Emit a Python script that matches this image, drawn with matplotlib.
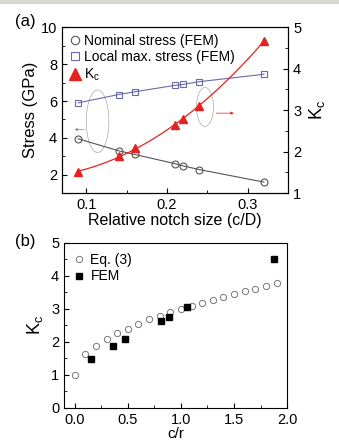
import numpy as np
import matplotlib
matplotlib.use("Agg")
import matplotlib.pyplot as plt
from matplotlib.patches import Ellipse
from matplotlib.lines import Line2D

plt.rcParams['font.family'] = ['Liberation Sans', 'DejaVu Sans']

# (a) stress and Kc vs relative notch size
cd = [0.09, 0.14, 0.16, 0.21, 0.22, 0.24, 0.32]
nominal = [3.95, 3.3, 3.1, 2.6, 2.48, 2.28, 1.6]
local_max = [5.9, 6.35, 6.5, 6.85, 6.9, 7.05, 7.45]
kc_a = [1.5, 1.9, 2.1, 2.65, 2.78, 3.09, 4.68]

# (b) Kc vs c/r
cr_eq = [0.0, 0.1, 0.2, 0.3, 0.4, 0.5, 0.6, 0.7, 0.8, 0.9,
         1.0, 1.1, 1.2, 1.3, 1.4, 1.5, 1.6, 1.7, 1.8, 1.9]
kc_eq = [1.0, 1.63, 1.88, 2.09, 2.26, 2.40, 2.55, 2.68, 2.79, 2.90,
         3.0, 3.1, 3.19, 3.28, 3.36, 3.44, 3.53, 3.61, 3.69, 3.77]
cr_fem = [0.15, 0.36, 0.47, 0.81, 0.89, 1.06, 1.88]
kc_fem = [1.48, 1.89, 2.09, 2.63, 2.76, 3.05, 4.52]

KC = r'$\mathregular{K_c}$'

fig = plt.figure(figsize=(3.39, 4.40), dpi=100)
fig.add_artist(Line2D([0, 1], [0.995, 0.995], color='#d8d8d0', lw=3))

gray = '#555555'
blue = '#6a6aa8'
red = '#e52222'

ax = fig.add_axes([0.183, 0.561, 0.667, 0.377])
ax2 = ax.twinx()
ax.plot(cd, nominal, color=gray, lw=0.8, marker='o', mfc='none', mec=gray, ms=5, mew=0.8)
ax.plot(cd, local_max, color=blue, lw=0.8, marker='s', mfc='none', mec=blue, ms=5, mew=0.8)
# smooth trend through Kc points
coef = np.polyfit(cd, kc_a, 2)
xs = np.linspace(min(cd), max(cd), 100)
ax2.plot(xs, np.polyval(coef, xs), color=red, lw=0.9)
ax2.plot(cd, kc_a, ls='none', marker='^', color=red, ms=5.5)

handles = [
    Line2D([], [], ls='none', marker='o', mfc='none', mec=gray, ms=6, mew=0.8),
    Line2D([], [], ls='none', marker='s', mfc='none', mec=blue, ms=6, mew=0.8),
    Line2D([], [], ls='none', marker='^', color=red, ms=8),
]
ax.legend(handles, ['Nominal stress (FEM)', 'Local max. stress (FEM)', KC],
          loc='upper left', fontsize=10, frameon=False, handlelength=0.8,
          handletextpad=0.3, borderaxespad=0.1, labelspacing=0.15)

ax.set_xlim(0.07, 0.35)
ax.set_ylim(1, 10)
ax2.set_ylim(1, 5)
ax.set_xticks([0.1, 0.2, 0.3])
ax.set_xticks([0.15, 0.25], minor=True)
ax.set_yticks([2, 4, 6, 8, 10])
ax.set_yticks([1, 3, 5, 7, 9], minor=True)
ax2.set_yticks([1, 2, 3, 4, 5])
ax2.set_yticks([1.5, 2.5, 3.5, 4.5], minor=True)
ax.tick_params(direction='in', labelsize=10.5)
ax.tick_params(which='minor', direction='in', length=2)
ax2.tick_params(direction='in', labelsize=10.5)
ax2.tick_params(which='minor', direction='in', length=2)
ax.set_ylabel('Stress (GPa)', fontsize=12, labelpad=2)
ax2.set_ylabel(KC, fontsize=13, labelpad=4)
ax.set_xlabel('Relative notch size (c/D)', fontsize=11.5, labelpad=1)

ax.add_patch(Ellipse((0.114, 4.9), 0.028, 3.4, fill=False, ec='#aaaaaa', lw=0.5))
ax.annotate('', xy=(0.082, 4.45), xytext=(0.101, 4.45),
            arrowprops=dict(arrowstyle='-|>', color='#888888', lw=0.5, mutation_scale=4))
ax2.add_patch(Ellipse((0.247, 3.08), 0.021, 0.94, fill=False, ec='#aaaaaa', lw=0.5))
ax2.annotate('', xy=(0.286, 2.93), xytext=(0.2575, 2.93),
             arrowprops=dict(arrowstyle='-|>', color=red, lw=0.5, mutation_scale=4))
fig.text(0.045, 0.94, '(a)', fontsize=12)

# (b)
bx = fig.add_axes([0.189, 0.073, 0.658, 0.375])
bx.plot(cr_eq, kc_eq, ls='none', marker='o', mfc='none', mec='#777777', ms=4.5, mew=0.7,
        label='Eq. (3)')
bx.plot(cr_fem, kc_fem, ls='none', marker='s', color='black', ms=4, label='FEM')
bx.set_xlim(-0.1, 2.0)
bx.set_ylim(0, 5)
bx.set_xticks([0.0, 0.5, 1.0, 1.5, 2.0])
bx.set_xticks([0.25, 0.75, 1.25, 1.75], minor=True)
bx.set_yticks([0, 1, 2, 3, 4, 5])
bx.set_yticks([0.5, 1.5, 2.5, 3.5, 4.5], minor=True)
bx.tick_params(direction='in', labelsize=10.5)
bx.tick_params(which='minor', direction='in', length=2)
bx.set_ylabel(KC, fontsize=13, labelpad=4)
bx.set_xlabel('c/r', fontsize=11, labelpad=0)
bx.legend(loc='upper left', fontsize=10, frameon=False, handlelength=0.8,
          handletextpad=0.4, borderaxespad=0.3, labelspacing=0.2)
fig.text(0.045, 0.44, '(b)', fontsize=12)

fig.savefig('out.png', dpi=100)
